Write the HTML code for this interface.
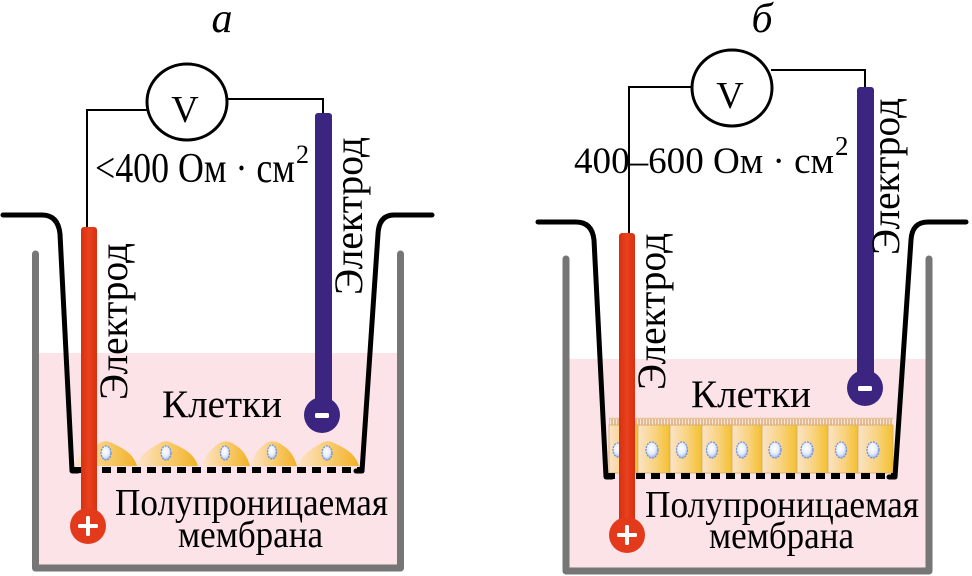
<!DOCTYPE html>
<html><head><meta charset="utf-8"><style>
html,body{margin:0;padding:0;background:#fff;}
svg{display:block;}
svg text{font-family:"Liberation Serif","Noto Serif CJK SC","DejaVu Serif",serif;fill:#000;}
</style></head><body>
<svg width="972" height="576" viewBox="0 0 972 576" xmlns="http://www.w3.org/2000/svg">
<defs>
<linearGradient id="cg" x1="0" y1="0" x2="1" y2="0">
<stop offset="0" stop-color="#fde4cc"/><stop offset="0.5" stop-color="#f8cc70"/><stop offset="1" stop-color="#f1b125"/>
</linearGradient>
<linearGradient id="cg2" x1="0" y1="0" x2="1" y2="0">
<stop offset="0" stop-color="#fbe3c8"/><stop offset="0.55" stop-color="#f8d27e"/><stop offset="1" stop-color="#f4c02e"/>
</linearGradient>
<radialGradient id="ng" cx="0.45" cy="0.4" r="0.6">
<stop offset="0" stop-color="#ffffff"/><stop offset="0.6" stop-color="#e6edfb"/><stop offset="1" stop-color="#9fb4ea"/>
</radialGradient>
<linearGradient id="rg" x1="0" y1="0" x2="1" y2="0">
<stop offset="0" stop-color="#d8300f"/><stop offset="0.5" stop-color="#e9421f"/><stop offset="1" stop-color="#d8300f"/>
</linearGradient>
<pattern id="mv" x="0" y="417" width="3" height="8" patternUnits="userSpaceOnUse">
<rect width="3" height="8" fill="#fbe6d6"/>
<path d="M0.5,8 L0.5,2 Q1.5,0 2.5,2 L2.5,8" fill="none" stroke="#d9a878" stroke-width="0.7"/>
</pattern>
</defs>

<!-- ===== Panel A ===== -->
<rect x="38" y="353" width="362" height="213" fill="#fbe3e8"/>
<path d="M35.5,254 L35.5,568 L400.5,568 L400.5,254" fill="none" stroke="#767676" stroke-width="7" stroke-linecap="round" stroke-linejoin="round"/>

<g fill="url(#cg)">
<path d="M75,466 C77,455 89,449 98,444 Q105,439 112,443 C120,447 133,452 137,466 Z"/>
<path d="M137,466 C139,455 150,449 158,444 Q165,439 172,443 C180,447 194,452 198,466 Z"/>
<path d="M203,466 C205,455 211,449 218,444 Q225,439 232,443 C239,447 246,452 250,466 Z"/>
<path d="M251,466 C253,455 258,449 265,444 Q272,439 279,443 C286,447 293,452 297,466 Z"/>
<path d="M298,466 C300,455 312,449 320,444 Q327,439 334,443 C342,447 355,452 359,466 Z"/>
</g>
<g fill="url(#ng)" stroke="#6f8fd8" stroke-width="1.2" stroke-dasharray="2 1">
<ellipse cx="106" cy="453" rx="5" ry="7"/>
<ellipse cx="166" cy="453" rx="5" ry="7"/>
<ellipse cx="225" cy="453" rx="4.5" ry="7"/>
<ellipse cx="272" cy="452" rx="4.5" ry="7"/>
<ellipse cx="327" cy="453" rx="5" ry="7"/>
</g>

<line x1="72" y1="470" x2="362" y2="470" stroke="#000" stroke-width="6" stroke-dasharray="9 6"/>
<path d="M3,215 L42,215 Q58,215 60,234 L72,471 L78,471" fill="none" stroke="#000" stroke-width="5" stroke-linecap="round" stroke-linejoin="round"/>
<path d="M432,215 L394,215 Q379,215 378,234 L362,471 L356,471" fill="none" stroke="#000" stroke-width="5" stroke-linecap="round" stroke-linejoin="round"/>

<path d="M148,110 L87,110 L87,228" fill="none" stroke="#000" stroke-width="2"/>
<path d="M227,99 L323,99 L323,114" fill="none" stroke="#000" stroke-width="2"/>
<ellipse cx="187" cy="102" rx="40" ry="38" fill="#fff" stroke="#000" stroke-width="3"/>

<rect x="81" y="227" width="16" height="290" rx="3" fill="url(#rg)"/>
<circle cx="88" cy="526" r="18" fill="#e43a1c"/>
<rect x="78" y="524" width="20" height="4" rx="1.5" fill="#fff"/>
<rect x="86" y="516" width="4" height="20" rx="1.5" fill="#fff"/>
<rect x="315" y="113" width="17" height="295" rx="3" fill="#3c2581"/>
<circle cx="322" cy="415" r="18" fill="#3c2581"/>
<rect x="315" y="413" width="14" height="5" rx="1.5" fill="#fff"/>

<!-- ===== Panel B ===== -->
<rect x="568" y="359" width="358" height="209" fill="#fbe3e8"/>
<path d="M566,259 L566,571 L929,571 L929,259" fill="none" stroke="#767676" stroke-width="7" stroke-linecap="round" stroke-linejoin="round"/>

<rect x="609" y="417" width="284" height="9" fill="url(#mv)"/>
<g fill="url(#cg2)" stroke="#d2ac62" stroke-width="0.8">
<rect x="609" y="425" width="29" height="48"/>
<rect x="638" y="425" width="32" height="48"/>
<rect x="670" y="425" width="32" height="48"/>
<rect x="702" y="425" width="30" height="48"/>
<rect x="732" y="425" width="30" height="48"/>
<rect x="762" y="425" width="35" height="48"/>
<rect x="797" y="425" width="31" height="48"/>
<rect x="828" y="425" width="30" height="48"/>
<rect x="858" y="425" width="35" height="48"/>
</g>
<g fill="url(#ng)" stroke="#6f8fd8" stroke-width="1.2" stroke-dasharray="2 1">
<ellipse cx="618" cy="450" rx="5" ry="7"/>
<ellipse cx="652" cy="450" rx="6" ry="8"/>
<ellipse cx="682" cy="450" rx="5.5" ry="8"/>
<ellipse cx="712" cy="450" rx="5.5" ry="8"/>
<ellipse cx="742" cy="450" rx="5.5" ry="8"/>
<ellipse cx="775" cy="450" rx="6" ry="8"/>
<ellipse cx="807" cy="450" rx="6" ry="8"/>
<ellipse cx="841" cy="450" rx="5.5" ry="8"/>
<ellipse cx="873" cy="450" rx="6" ry="8"/>
</g>

<line x1="606" y1="476" x2="895" y2="476" stroke="#000" stroke-width="6" stroke-dasharray="9 6"/>
<path d="M538,222 L576,222 Q592,222 594,240 L606,477 L612,477" fill="none" stroke="#000" stroke-width="5" stroke-linecap="round" stroke-linejoin="round"/>
<path d="M966,222 L928,222 Q912,222 911,240 L895,477 L889,477" fill="none" stroke="#000" stroke-width="5" stroke-linecap="round" stroke-linejoin="round"/>

<path d="M692,87 L629,87 L629,234" fill="none" stroke="#000" stroke-width="2"/>
<path d="M771,70 L865,70 L865,88" fill="none" stroke="#000" stroke-width="2"/>
<ellipse cx="732" cy="88" rx="40" ry="38" fill="#fff" stroke="#000" stroke-width="3"/>

<rect x="619" y="233" width="16" height="293" rx="3" fill="url(#rg)"/>
<circle cx="627" cy="535" r="18" fill="#e43a1c"/>
<rect x="617" y="533" width="20" height="4" rx="1.5" fill="#fff"/>
<rect x="625" y="525" width="4" height="20" rx="1.5" fill="#fff"/>
<rect x="857" y="87" width="17" height="295" rx="3" fill="#3c2581"/>
<circle cx="865" cy="388" r="18" fill="#3c2581"/>
<rect x="858" y="386" width="14" height="5" rx="1.5" fill="#fff"/>

<!-- texts -->
<g fill="#000">
<text x="185" y="122" font-size="38" text-anchor="middle">V</text>
<text x="222" y="32" font-size="42" font-style="italic" text-anchor="middle">а</text>
<text x="95" y="182" font-size="42" textLength="200" lengthAdjust="spacingAndGlyphs">&lt;400 Ом · см</text>
<text x="296" y="163" font-size="26">2</text>
<text transform="translate(127,400) rotate(-90)" font-size="40" textLength="157" lengthAdjust="spacingAndGlyphs">Электрод</text>
<text transform="translate(362,295) rotate(-90)" font-size="40" textLength="158" lengthAdjust="spacingAndGlyphs">Электрод</text>
<text x="162" y="417" font-size="39" textLength="120" lengthAdjust="spacingAndGlyphs">Клетки</text>
<text x="115" y="515" font-size="38" textLength="273" lengthAdjust="spacingAndGlyphs">Полупроницаемая</text>
<text x="178" y="547" font-size="38" textLength="145" lengthAdjust="spacingAndGlyphs">мембрана</text>

<text x="730" y="108" font-size="38" text-anchor="middle">V</text>
<text x="762" y="32" font-size="42" font-style="italic" text-anchor="middle">б</text>
<text x="574" y="173" font-size="37" textLength="260" lengthAdjust="spacingAndGlyphs">400–600 Ом · см</text>
<text x="835" y="155" font-size="27">2</text>
<text transform="translate(665,390) rotate(-90)" font-size="40" textLength="157" lengthAdjust="spacingAndGlyphs">Электрод</text>
<text transform="translate(899,255) rotate(-90)" font-size="40" textLength="157" lengthAdjust="spacingAndGlyphs">Электрод</text>
<text x="691" y="407" font-size="39" textLength="120" lengthAdjust="spacingAndGlyphs">Клетки</text>
<text x="645" y="517" font-size="38" textLength="274" lengthAdjust="spacingAndGlyphs">Полупроницаемая</text>
<text x="709" y="548" font-size="38" textLength="145" lengthAdjust="spacingAndGlyphs">мембрана</text>
</g>
</svg>
</body></html>
